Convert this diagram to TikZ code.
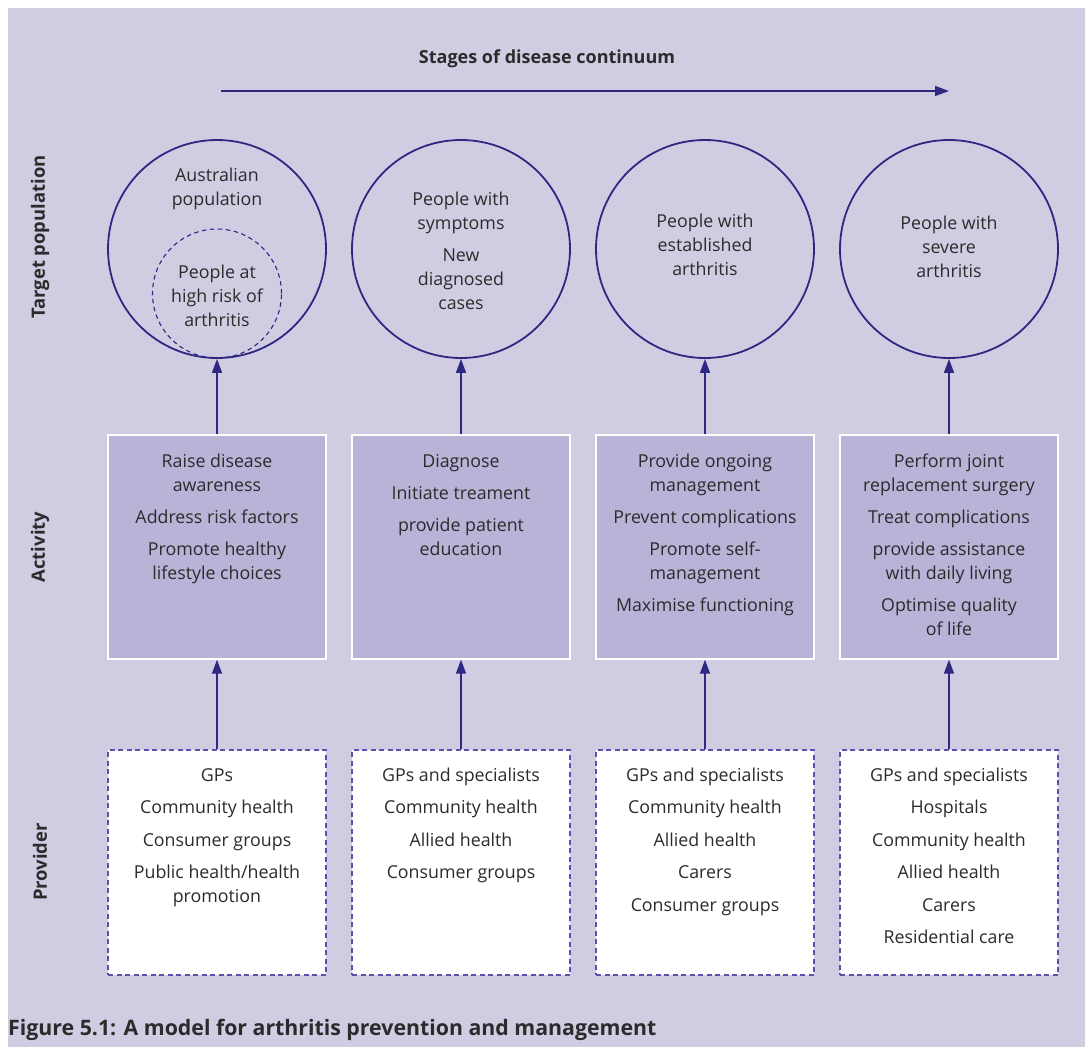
\documentclass[tikz,border=0pt]{standalone}
\usepackage{fontspec}
\setmainfont{Open Sans}
\usetikzlibrary{arrows.meta}
\definecolor{bgc}{HTML}{D0CDE3}
\definecolor{actc}{HTML}{B8B3D7}
\definecolor{linec}{HTML}{2E2883}
\definecolor{dashc}{HTML}{5A52AA}
\definecolor{txtc}{HTML}{2B2B2B}
\tikzset{
  txt/.style={align=center, text=txtc, inner sep=0pt, font=\fontsize{17.8}{24}\selectfont},
  bold/.style={text=txtc, inner sep=0pt, font=\fontsize{18}{20}\selectfont\bfseries},
  sidelab/.style={bold, rotate=90, font=\fontsize{18.4}{20}\selectfont\bfseries},
  pop/.style={circle, draw=linec, line width=1.8pt, minimum size=218pt, inner sep=0pt},
  risk/.style={circle, draw=linec, line width=1.1pt, dash pattern=on 4.5pt off 3.5pt, minimum size=129pt, inner sep=0pt},
  actbox/.style={rectangle, draw=white, line width=1.4pt, fill=actc, minimum width=218pt, minimum height=224pt, inner sep=0pt},
  provbox/.style={rectangle, draw=dashc, line width=1.5pt, dash pattern=on 5pt off 3.5pt, fill=white, minimum width=218pt, minimum height=225pt, inner sep=0pt},
  flow/.style={draw=linec, line width=1.5pt, -{Triangle[length=14pt,width=10pt]}},
}
\begin{document}
\begin{tikzpicture}[x=1pt,y=-1pt]
\useasboundingbox (0,0) rectangle (1085,1047);
\fill[bgc] (8,8) rectangle (1085,1047);

% title and stage arrow
\node[bold, anchor=base] (title) at (547,63) {Stages of disease continuum};
\coordinate (sa) at (221,91);
\coordinate (sb) at (949,91);
\draw[flow] (sa) -- (sb);

% row labels
\node[sidelab] (lab1) at (40,237) {Target population};
\node[sidelab] (lab2) at (40,547) {Activity};
\node[sidelab] (lab3) at (40,862) {Provider};

% circles
\node[pop] (c1) at (217,249) {};
\node[pop] (c2) at (461,249) {};
\node[pop] (c3) at (705,249) {};
\node[pop] (c4) at (949,249) {};
\node[risk] (r1) at (217,293.5) {};

% (anchor=base = baseline of the last line)
\node[txt, anchor=base] (c1t) at (217,205) {Australian\\population};
\node[txt, anchor=base] (r1t) at (217,326) {People at\\high risk of\\arthritis};
\node[txt, anchor=base] (c2t) at (461,309) {People with\\symptoms\\[8pt]New\\diagnosed\\cases};
\node[txt, anchor=base] (c3t) at (705,275) {People with\\established\\arthritis};
\node[txt, anchor=base] (c4t) at (949,277) {People with\\severe\\arthritis};

% activity boxes
\node[actbox] (a1) at (217,547) {};
\node[actbox] (a2) at (461,547) {};
\node[actbox] (a3) at (705,547) {};
\node[actbox] (a4) at (949,547) {};

\node[txt, anchor=base] (a1t) at (217,579) {Raise disease\\awareness\\[8pt]Address risk factors\\[8pt]Promote healthy\\lifestyle choices};
\node[txt, anchor=base] (a2t) at (461,555) {Diagnose\\[8pt]Initiate treament\\[8pt]provide patient\\education};
\node[txt, anchor=base] (a3t) at (705,611) {Provide ongoing\\management\\[8pt]Prevent complications\\[8pt]Promote self-\\management\\[8pt]Maximise functioning};
\node[txt, anchor=base] (a4t) at (949,635) {Perform joint\\replacement surgery\\[8pt]Treat complications\\[8pt]provide assistance\\with daily living\\[8pt]Optimise quality\\of life};

% provider boxes
\node[provbox] (p1) at (217,862.5) {};
\node[provbox] (p2) at (461,862.5) {};
\node[provbox] (p3) at (705,862.5) {};
\node[provbox] (p4) at (949,862.5) {};

\node[txt, anchor=base] (p1t) at (217,902.5) {GPs\\[8.5pt]Community health\\[8.5pt]Consumer groups\\[8.5pt]Public health/health\\promotion};
\node[txt, anchor=base] (p2t) at (461,878.5) {GPs and specialists\\[8.5pt]Community health\\[8.5pt]Allied health\\[8.5pt]Consumer groups};
\node[txt, anchor=base] (p3t) at (705,911) {GPs and specialists\\[8.5pt]Community health\\[8.5pt]Allied health\\[8.5pt]Carers\\[8.5pt]Consumer groups};
\node[txt, anchor=base] (p4t) at (949,943.5) {GPs and specialists\\[8.5pt]Hospitals\\[8.5pt]Community health\\[8.5pt]Allied health\\[8.5pt]Carers\\[8.5pt]Residential care};

% connectors
\foreach \i in {1,2,3,4} {
  \draw[flow] (p\i.north) -- (a\i.south);
  \draw[flow] (a\i.north) -- (c\i.south);
}

% caption
\node[text=txtc, inner sep=0pt, anchor=base west, font=\fontsize{21.3}{24}\selectfont\bfseries] (cap) at (8,1035) {Figure 5.1: A model for arthritis prevention and management};
\end{tikzpicture}
\end{document}
